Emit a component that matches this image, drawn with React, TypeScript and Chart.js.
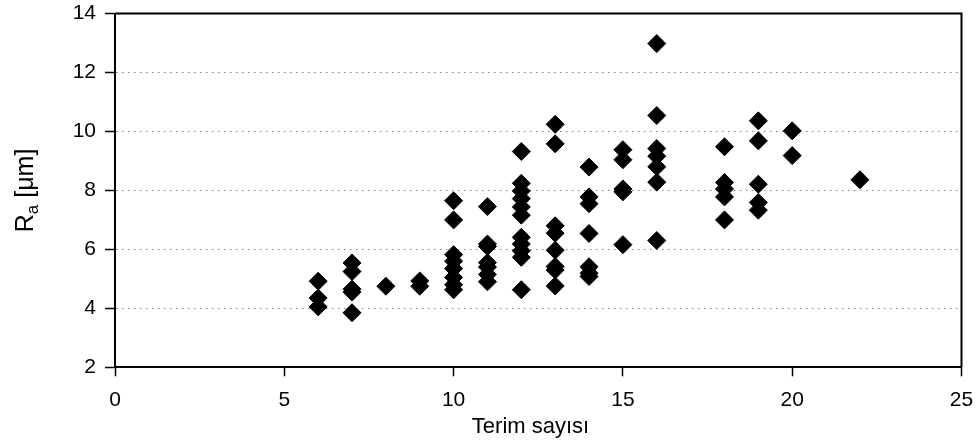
import React, { useEffect, useRef } from "react";
import { Chart, registerables } from "chart.js";

Chart.register(...registerables);

// Number of terms (x) and measured roughness Ra (y)
const terimSayisi: number[] = [
  6, 6, 6,
  7, 7, 7, 7, 7,
  8,
  9, 9,
  10, 10, 10, 10, 10, 10, 10, 10,
  11, 11, 11, 11, 11, 11, 11,
  12, 12, 12, 12, 12, 12, 12, 12, 12, 12, 12,
  13, 13, 13, 13, 13, 13, 13, 13,
  14, 14, 14, 14, 14, 14, 14,
  15, 15, 15, 15, 15,
  16, 16, 16, 16, 16, 16, 16,
  18, 18, 18, 18, 18,
  19, 19, 19, 19, 19,
  20, 20,
  22,
];

const raValues: number[] = [
  4.92, 4.35, 4.05,
  5.54, 5.25, 4.65, 4.55, 3.85,
  4.75,
  4.93, 4.75,
  7.65, 7.0, 5.82, 5.6, 5.35, 5.05, 4.8, 4.63,
  7.45, 6.18, 6.1, 5.55, 5.4, 5.15, 4.9,
  9.32, 8.24, 7.98, 7.72, 7.44, 7.16, 6.41, 6.18, 5.95, 5.73, 4.63,
  10.24, 9.58, 6.8, 6.55, 5.97, 5.42, 5.3, 4.76,
  8.79, 7.78, 7.55, 6.54, 5.41, 5.19, 5.08,
  9.38, 9.04, 8.05, 7.95, 6.16,
  12.98, 10.54, 9.42, 9.16, 8.8, 8.28, 6.3,
  9.48, 8.27, 8.05, 7.78, 7.0,
  10.36, 9.68, 8.21, 7.59, 7.33,
  10.02, 9.18,
  8.36,
];

const xTicks: number[] = [0, 5, 10, 15, 20, 25];
const yTicks: number[] = [2, 4, 6, 8, 10, 12, 14];

const xTitle = "Terim sayısı";
const yTitleMain = "R";
const yTitleSub = "a";
const yTitleRest = " [μm]";

const FONT = "'Liberation Sans', Arial, sans-serif";

const frameAndTitles = {
  id: "frameAndTitles",
  afterDraw(chart: any) {
    const { ctx, chartArea } = chart;
    const { left, right, top, bottom } = chartArea;
    ctx.save();
    // top and right frame lines
    ctx.strokeStyle = "#000";
    ctx.lineWidth = 2;
    ctx.beginPath();
    ctx.moveTo(left, top);
    ctx.lineTo(right, top);
    ctx.lineTo(right, bottom);
    ctx.stroke();

    // x axis title
    ctx.fillStyle = "#000";
    ctx.font = `22px ${FONT}`;
    ctx.textAlign = "center";
    ctx.textBaseline = "alphabetic";
    ctx.fillText(xTitle, 530.5, 433);

    // y axis title (rotated, with subscript)
    const F = 25;
    const subF = Math.round(F * 0.66);
    ctx.translate(32.5, (top + bottom) / 2);
    ctx.rotate(-Math.PI / 2);
    ctx.textAlign = "left";
    ctx.font = `${F}px ${FONT}`;
    const wMain = ctx.measureText(yTitleMain).width;
    const wRest = ctx.measureText(yTitleRest).width;
    ctx.font = `${subF}px ${FONT}`;
    const wSub = ctx.measureText(yTitleSub).width;
    const total = wMain + wSub + wRest;
    let xPos = -total / 2;
    ctx.font = `${F}px ${FONT}`;
    ctx.fillText(yTitleMain, xPos, 0);
    xPos += wMain;
    ctx.font = `${subF}px ${FONT}`;
    ctx.fillText(yTitleSub, xPos, F * 0.2);
    xPos += wSub;
    ctx.font = `${F}px ${FONT}`;
    ctx.fillText(yTitleRest, xPos, 0);
    ctx.restore();
  },
};

const zeroPadding = (scale: any) => {
  scale.paddingTop = 0;
  scale.paddingBottom = 0;
  scale.paddingLeft = 0;
  scale.paddingRight = 0;
};

export default function App() {
  const canvasRef = useRef<HTMLCanvasElement | null>(null);

  useEffect(() => {
    document.body.style.margin = "0";
    const canvas = canvasRef.current;
    if (!canvas) return;
    const points = terimSayisi.map((x, i) => ({ x, y: raValues[i] }));
    const chart = new Chart(canvas, {
      type: "scatter",
      data: {
        datasets: [
          {
            data: points,
            pointStyle: "rectRot",
            pointRadius: 9,
            pointHoverRadius: 9,
            backgroundColor: "#000",
            borderColor: "#000",
            borderWidth: 1,
          },
        ],
      },
      options: {
        responsive: false,
        animation: false,
        events: [],
        layout: { autoPadding: false, padding: { top: 13.5, right: 18.5, left: 0, bottom: 0 } },
        plugins: {
          legend: { display: false },
          tooltip: { enabled: false },
          title: { display: false },
        },
        scales: {
          x: {
            type: "linear",
            min: 0,
            max: 25,
            afterBuildTicks: (scale: any) => {
              scale.ticks = xTicks.map((v) => ({ value: v }));
            },
            afterFit: (scale: any) => {
              scale.height = 447 - 367.3;
              zeroPadding(scale);
            },
            ticks: {
              color: "#000",
              font: { family: FONT, size: 21 },
              padding: 11,
              maxRotation: 0,
              autoSkip: false,
            },
            grid: {
              drawOnChartArea: false,
              drawTicks: true,
              tickLength: 9,
              tickColor: "#000",
              tickWidth: 1.5,
            },
            border: { display: true, color: "#000", width: 2 },
            title: { display: false },
          },
          y: {
            type: "linear",
            min: 2,
            max: 14,
            afterBuildTicks: (scale: any) => {
              scale.ticks = yTicks.map((v) => ({ value: v }));
            },
            afterFit: (scale: any) => {
              scale.width = 115;
              zeroPadding(scale);
            },
            ticks: {
              color: "#000",
              font: { family: FONT, size: 21 },
              padding: 9,
              autoSkip: false,
            },
            grid: {
              drawOnChartArea: true,
              drawTicks: true,
              tickLength: 10,
              color: "#808080",
              lineWidth: 1,
              tickColor: "#000",
              tickWidth: 1.5,
              tickBorderDash: [],
            },
            border: { display: true, color: "#000", width: 2, dash: [1.5, 4.5] },
            title: { display: false },
          },
        },
      },
      plugins: [frameAndTitles],
    });
    return () => chart.destroy();
  }, []);

  return (
    <div style={{ width: 980, height: 447, position: "relative", background: "#fff" }}>
      <canvas ref={canvasRef} width={980} height={447} style={{ display: "block" }} />
    </div>
  );
}
